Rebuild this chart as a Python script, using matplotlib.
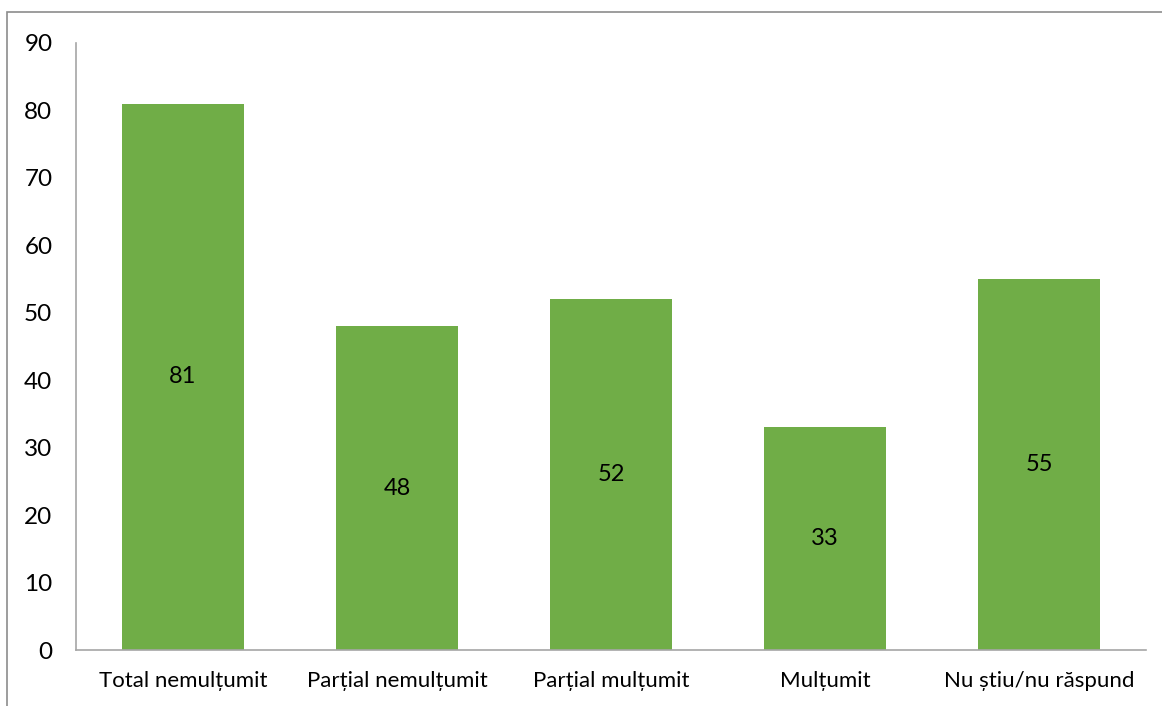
import matplotlib
matplotlib.use('Agg')
import matplotlib.pyplot as plt
from matplotlib.patches import Rectangle

categories = ['Total nemulțumit', 'Parțial nemulțumit', 'Parțial mulțumit',
              'Mulțumit', 'Nu știu/nu răspund']
values = [81, 48, 52, 33, 55]
yticks = [0, 10, 20, 30, 40, 50, 60, 70, 80, 90]

plt.rcParams['font.family'] = ['Lato', 'DejaVu Sans']

fig = plt.figure(figsize=(11.62, 7.06), dpi=100)
ax = fig.add_axes([0.0654, 0.0793, 0.9208, 0.8598])

# outer chart border (only top and left visible in the crop)
fig.patches.append(Rectangle((7 / 1162, -0.1), 1.2, 1 - 12 / 706 + 0.1,
                             transform=fig.transFigure, fill=False,
                             edgecolor='#8c8c8c', linewidth=1.2))

x = range(len(categories))
bars = ax.bar(x, values, width=0.57, color='#70AD47')
for b, v in zip(bars, values):
    ax.text(b.get_x() + b.get_width() / 2, v / 2, str(v),
            ha='center', va='center', fontsize=17, color='black')

ax.set_xlim(-0.5, len(categories) - 0.5)
ax.set_ylim(0, 90)
ax.set_yticks(yticks)
ax.set_xticks(list(x))
ax.set_xticklabels(categories)
ax.tick_params(axis='y', length=0, pad=17, labelsize=17.5)
ax.tick_params(axis='x', length=0, pad=15, labelsize=16)

for s in ['top', 'right']:
    ax.spines[s].set_visible(False)
for s in ['left', 'bottom']:
    ax.spines[s].set_color('#a6a6a6')
    ax.spines[s].set_linewidth(1.2)

plt.savefig('out.png', dpi=100)
